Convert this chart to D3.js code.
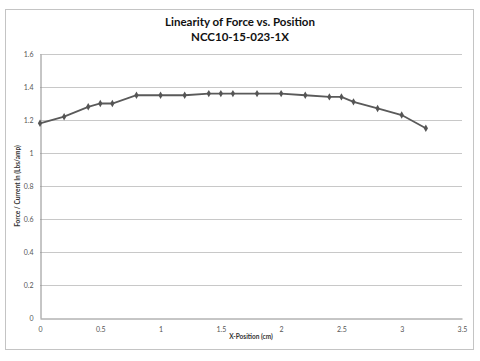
<!DOCTYPE html>
<html><head><meta charset="utf-8">
<script src="https://cdn.jsdelivr.net/npm/d3@7"></script>
<style>body{margin:0;background:#fff}svg{display:block}</style>
</head><body>
<svg id="c" width="480" height="361"></svg>
<script>
const xValues = [0,0.2,0.4,0.5,0.6,0.8,1.0,1.2,1.4,1.5,1.6,1.8,2.0,2.2,2.4,2.5,2.6,2.8,3.0,3.2];
const yValues = [1.18,1.22,1.28,1.30,1.30,1.35,1.35,1.35,1.36,1.36,1.36,1.36,1.36,1.35,1.34,1.34,1.31,1.27,1.23,1.15];
const xTicks = [0,0.5,1,1.5,2,2.5,3,3.5];
const yTicks = [0,0.2,0.4,0.6,0.8,1,1.2,1.4,1.6];
const titleLines = ["Linearity of Force vs. Position","NCC10-15-023-1X"];
const xTitle = "X-Position (cm)";
const yTitle = "Force / Current In (Lbs/amp)";

const svg = d3.select("#c");
const font = "Lato, 'Open Sans', sans-serif";
svg.append("rect").attr("x",5.5).attr("y",9.5).attr("width",468).attr("height",340)
  .attr("fill","#fff").attr("stroke","#c4c4c4").attr("stroke-width",1);

const x = d3.scaleLinear().domain([0,3.5]).range([40,462]);
const y = d3.scaleLinear().domain([0,1.6]).range([318,54]);

// gridlines
svg.append("g").selectAll("line").data(yTicks.filter(d=>d>0)).join("line")
  .attr("x1",x(0)).attr("x2",x(3.5)).attr("y1",d=>Math.round(y(d))+0.5).attr("y2",d=>Math.round(y(d))+0.5)
  .attr("stroke","#c8c8c8").attr("stroke-width",1);

// axes
const gx = svg.append("g").attr("transform",`translate(0,${Math.round(y(0))+0.5})`)
  .call(d3.axisBottom(x).tickValues(xTicks).tickSize(0).tickPadding(9).tickFormat(d3.format("")));
const gy = svg.append("g").attr("transform",`translate(${Math.round(x(0))+0.5},0)`)
  .call(d3.axisLeft(y).tickValues(yTicks).tickSize(0).tickPadding(7).tickFormat(d3.format("")));
[gx,gy].forEach(g=>{
  g.select(".domain").attr("stroke","#8c8c8c").attr("stroke-width",1);
  g.selectAll("text").attr("fill","#555").style("font-family",font).style("font-size","7px");
});

// line
svg.append("path").datum(xValues.map((v,i)=>[v,yValues[i]]))
  .attr("fill","none").attr("stroke","#5a5a5a").attr("stroke-width",1.8)
  .attr("d",d3.line().x(d=>x(d[0])).y(d=>y(d[1])));
svg.append("g").selectAll("path").data(xValues.map((v,i)=>[v,yValues[i]])).join("path")
  .attr("d",d3.symbol(d3.symbolDiamond,16))
  .attr("transform",d=>`translate(${x(d[0])},${y(d[1])})`)
  .attr("fill","#555").attr("stroke","none");

// titles
svg.append("g").selectAll("text").data(titleLines).join("text")
  .attr("x",240).attr("y",(d,i)=>26+i*15).attr("text-anchor","middle")
  .attr("fill","#111").style("font-family",font).style("font-weight","bold").style("font-size","11.5px")
  .text(d=>d);
svg.append("text").attr("x",251).attr("y",339).attr("text-anchor","middle")
  .attr("fill","#333").style("font-family",font).style("font-weight","bold").style("font-size","6.5px").text(xTitle);
svg.append("text").attr("transform",`translate(20,186) rotate(-90)`).attr("text-anchor","middle")
  .attr("fill","#333").style("font-family",font).style("font-weight","bold").style("font-size","6.5px").text(yTitle);
</script>
</body></html>
